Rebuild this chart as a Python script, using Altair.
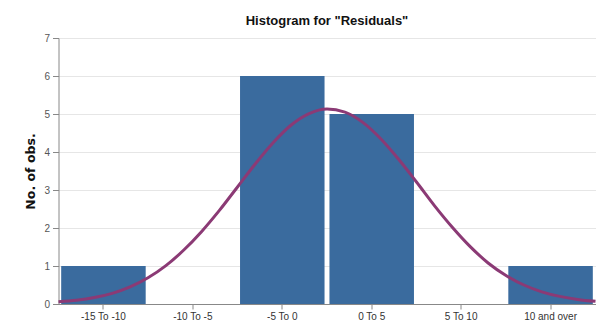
import altair as alt
import pandas as pd

categories = ["-15 To -10", "-10 To -5", "-5 To 0", "0 To 5", "5 To 10", "10 and over"]
counts = [1, 0, 6, 5, 0, 1]

curve_x = [-15, -14, -13, -12, -11, -10, -9, -8, -7, -6, -5, -4, -3, -2, -1, 0,
           1, 2, 3, 4, 5, 6, 7, 8, 9, 10, 11, 12, 13, 14, 15]
curve_y = [0.06, 0.10, 0.17, 0.28, 0.45, 0.69, 1.01, 1.42, 1.91, 2.47, 3.08, 3.69,
           4.25, 4.71, 5.01, 5.13, 5.05, 4.78, 4.35, 3.81, 3.21, 2.59, 2.02, 1.51,
           1.08, 0.75, 0.50, 0.32, 0.20, 0.12, 0.07]
y_ticks = [0, 1, 2, 3, 4, 5, 6, 7]

bars_df = pd.DataFrame({"bin": categories, "count": counts})
curve_df = pd.DataFrame({"x": curve_x, "y": curve_y})

y_scale = alt.Scale(domain=[0, 7], nice=False)
y_axis = alt.Axis(title="No. of obs.", values=y_ticks, labelOverlap=False,
                  tickSize=6, labelPadding=3, labelFont="Liberation Sans",
                  labelFontSize=10, labelColor="#555555",
                  domainColor="#888888", tickColor="#888888",
                  grid=True, gridColor="#e6e6e6",
                  titleFont="DejaVu Sans", titleFontSize=12.5,
                  titleFontWeight="bold", titleColor="#111111",
                  titlePadding=6)

bars = alt.Chart(bars_df).mark_bar(color="#3a6b9e").encode(
    x=alt.X("bin:N", sort=categories,
            scale=alt.Scale(paddingInner=0.055, paddingOuter=0.03),
            axis=alt.Axis(title=None, labelAngle=0, tickSize=5, labelPadding=2,
                          labelFont="Liberation Sans", labelFontSize=10,
                          labelColor="#333333", domainColor="#888888",
                          tickColor="#888888", grid=False)),
    y=alt.Y("count:Q", scale=y_scale, axis=y_axis),
)

curve = alt.Chart(curve_df).mark_line(
    color="#8b3a75", strokeWidth=3, interpolate="monotone"
).encode(
    x=alt.X("x:Q", scale=alt.Scale(domain=[-15, 15], nice=False, zero=False), axis=None),
    y=alt.Y("y:Q", scale=y_scale, axis=y_axis),
)

chart = alt.layer(bars, curve).resolve_scale(x="independent").properties(
    width=537,
    height=266,
    title=alt.TitleParams('Histogram for "Residuals"', font="Liberation Sans",
                          fontSize=13, fontWeight="bold", color="#111111",
                          anchor="middle", offset=5),
    autosize=alt.AutoSizeParams(type="none"),
    padding={"left": 50.5, "top": 30, "right": 0.5, "bottom": 18},
).configure_view(stroke=None)

chart.save("out.html", embed_options={"renderer": "svg", "actions": False})
